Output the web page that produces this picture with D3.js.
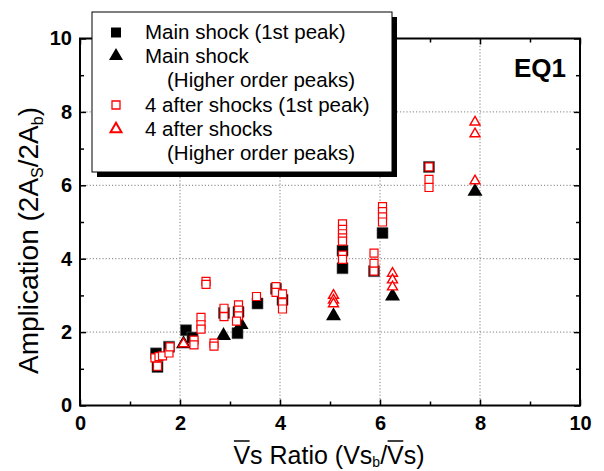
<!DOCTYPE html>
<html><head><meta charset="utf-8">
<script src="https://cdn.jsdelivr.net/npm/d3@7"></script>
<style>html,body{margin:0;padding:0;background:#fff;} svg{display:block;font-family:"Liberation Sans",Arial,sans-serif;}</style>
</head><body><svg id="c" width="604" height="471"></svg>
<script>
// ---- data ----
const main1X = [1.52, 1.55, 1.78, 2.12, 2.25, 2.88, 3.15, 3.17, 3.55, 3.92, 4.05, 5.25, 5.25, 5.88, 6.05, 6.98];
const main1Y = [1.42, 1.05, 1.60, 2.05, 1.85, 2.52, 1.97, 2.55, 2.78, 3.18, 2.88, 4.22, 3.74, 3.66, 4.70, 6.50];
const mainHX = [2.07, 2.87, 3.22, 5.07, 6.25, 7.90];
const mainHY = [1.68, 1.90, 2.20, 2.44, 2.98, 5.83];
const after1X = [1.50, 1.55, 1.58, 1.65, 1.78, 1.80, 2.28, 2.28, 2.42, 2.42, 2.42, 2.52, 2.52, 2.68, 2.68, 2.88, 2.88, 3.17, 3.17, 3.17, 3.13, 3.53, 3.92, 3.92, 4.05, 4.05, 4.05, 5.25, 5.25, 5.25, 5.25, 5.25, 5.25, 5.25, 5.88, 5.88, 5.88, 6.05, 6.05, 6.05, 6.05, 6.98, 6.98, 6.98];
const after1Y = [1.30, 1.07, 1.33, 1.35, 1.43, 1.60, 1.78, 1.65, 2.40, 2.20, 2.08, 3.38, 3.30, 1.70, 1.62, 2.65, 2.42, 2.74, 2.60, 2.44, 2.30, 2.97, 3.24, 3.08, 3.04, 2.80, 2.63, 4.95, 4.80, 4.68, 4.57, 4.48, 4.10, 3.98, 4.15, 3.87, 3.66, 5.42, 5.28, 5.14, 5.00, 6.50, 6.16, 5.94];
const afterHX = [2.07, 5.07, 5.07, 5.07, 6.25, 6.25, 6.25, 7.90, 7.90, 7.90];
const afterHY = [1.68, 3.00, 2.87, 2.77, 3.60, 3.42, 3.23, 7.72, 7.40, 6.12];
const majorTicks = [0, 2, 4, 6, 8, 10];
const minorTicks = [1, 3, 5, 7, 9];
const gridVals = [2, 4, 6, 8];
const legendLabels = ["Main shock (1st peak)", "Main shock", "(Higher order peaks)", "4 after shocks (1st peak)", "4 after shocks", "(Higher order peaks)"];

// ---- layout ----
const svg = d3.select("#c");
const x = d3.scaleLinear().domain([0, 10]).range([80, 580]);
const y = d3.scaleLinear().domain([0, 10]).range([405.5, 38.5]);

// grid
const grid = svg.append("g").attr("stroke", "#808080").attr("stroke-width", 1).attr("stroke-dasharray", "1.2,2");
grid.selectAll("line.v").data(gridVals).join("line").attr("class", "v")
  .attr("x1", d => x(d)).attr("x2", d => x(d)).attr("y1", y(0)).attr("y2", y(10));
grid.selectAll("line.h").data(gridVals).join("line").attr("class", "h")
  .attr("y1", d => y(d)).attr("y2", d => y(d)).attr("x1", x(0)).attr("x2", x(10));

// axes
function styleAxis(g) {
  g.select(".domain").remove();
  g.selectAll(".tick line").attr("stroke", "#000").attr("stroke-width", 1.5);
  g.selectAll(".tick text").attr("font-size", 20).attr("font-weight", "bold").attr("fill", "#000")
    .attr("font-family", '"Liberation Sans",Arial,sans-serif');
}
svg.append("g").attr("transform", `translate(0,${y(0)})`)
  .call(d3.axisBottom(x).tickValues(majorTicks).tickSize(-6).tickPadding(10).tickFormat(d3.format("d"))).call(styleAxis);
svg.append("g").attr("transform", `translate(0,${y(0)})`)
  .call(d3.axisBottom(x).tickValues(minorTicks).tickSize(-4).tickFormat("")).call(styleAxis);
svg.append("g").attr("transform", `translate(${x(0)},0)`)
  .call(d3.axisLeft(y).tickValues(majorTicks).tickSize(-6).tickPadding(8).tickFormat(d3.format("d"))).call(styleAxis);
svg.append("g").attr("transform", `translate(${x(0)},0)`)
  .call(d3.axisLeft(y).tickValues(minorTicks).tickSize(-4).tickFormat("")).call(styleAxis);
svg.append("g").attr("transform", `translate(0,${y(10)})`)
  .call(d3.axisTop(x).tickValues(majorTicks).tickSize(-6).tickFormat("")).call(styleAxis);
svg.append("g").attr("transform", `translate(0,${y(10)})`)
  .call(d3.axisTop(x).tickValues(minorTicks).tickSize(-4).tickFormat("")).call(styleAxis);
svg.append("g").attr("transform", `translate(${x(10)},0)`)
  .call(d3.axisRight(y).tickValues(majorTicks).tickSize(-6).tickFormat("")).call(styleAxis);
svg.append("g").attr("transform", `translate(${x(10)},0)`)
  .call(d3.axisRight(y).tickValues(minorTicks).tickSize(-4).tickFormat("")).call(styleAxis);

// frame
svg.append("rect").attr("x", x(0)).attr("y", y(10)).attr("width", x(10) - x(0)).attr("height", y(0) - y(10))
  .attr("fill", "none").attr("stroke", "#000").attr("stroke-width", 2);

// markers
const triArea = w => w * w * Math.sqrt(3) / 4;
const sqBlack = d3.symbol().type(d3.symbolSquare).size(11 * 11);
const triBlack = d3.symbol().type(d3.symbolTriangle).size(triArea(15));
const sqRed = d3.symbol().type(d3.symbolSquare).size(8 * 8);
const triRed = d3.symbol().type(d3.symbolTriangle).size(triArea(10));

svg.append("g").selectAll("path").data(d3.range(main1X.length)).join("path")
  .attr("d", sqBlack).attr("transform", i => `translate(${x(main1X[i])},${y(main1Y[i])})`)
  .attr("fill", "#000").attr("stroke", "#555").attr("stroke-width", 0.6);
svg.append("g").selectAll("path").data(d3.range(mainHX.length)).join("path")
  .attr("d", triBlack).attr("transform", i => `translate(${x(mainHX[i])},${y(mainHY[i])})`)
  .attr("fill", "#000");
svg.append("g").selectAll("path").data(d3.range(after1X.length)).join("path")
  .attr("d", sqRed).attr("transform", i => `translate(${x(after1X[i])},${y(after1Y[i])})`)
  .attr("fill", "#fff").attr("stroke", "#f00").attr("stroke-width", 1.2);
svg.append("g").selectAll("path").data(d3.range(afterHX.length)).join("path")
  .attr("d", triRed).attr("transform", i => `translate(${x(afterHX[i])},${y(afterHY[i])})`)
  .attr("fill", "#fff").attr("stroke", "#f00").attr("stroke-width", 1.4);

// EQ1 label
svg.append("text").attr("x", 566).attr("y", 77).attr("text-anchor", "end")
  .attr("font-size", 26).attr("font-weight", "bold").text("EQ1");

// legend
const lg = svg.append("g");
lg.append("rect").attr("x", 97).attr("y", 17).attr("width", 300).attr("height", 160).attr("fill", "#000");
lg.append("rect").attr("x", 92).attr("y", 12).attr("width", 300).attr("height", 160)
  .attr("fill", "#fff").attr("stroke", "#000").attr("stroke-width", 1);
const lgBase = [39, 63, 87, 111.5, 136, 160];
const lgX = [145, 145, 167, 145, 145, 167];
lg.selectAll("text").data(legendLabels).join("text")
  .attr("x", (d, i) => lgX[i]).attr("y", (d, i) => lgBase[i]).attr("font-size", 20.5).text(d => d);
lg.append("path").attr("d", d3.symbol().type(d3.symbolSquare).size(100)).attr("transform", "translate(116,32.5)").attr("fill", "#000");
lg.append("path").attr("d", d3.symbol().type(d3.symbolTriangle).size(triArea(14))).attr("transform", "translate(116,56)").attr("fill", "#000");
lg.append("path").attr("d", d3.symbol().type(d3.symbolSquare).size(64)).attr("transform", "translate(116,105)")
  .attr("fill", "#fff").attr("stroke", "#f00").attr("stroke-width", 1.3);
lg.append("path").attr("d", d3.symbol().type(d3.symbolTriangle).size(triArea(11))).attr("transform", "translate(116,129)")
  .attr("fill", "#fff").attr("stroke", "#f00").attr("stroke-width", 2);

// x axis label
const xl = svg.append("text").attr("x", 329).attr("y", 464).attr("text-anchor", "middle").attr("font-size", 25);
xl.append("tspan").text("Vs Ratio (Vs");
xl.append("tspan").attr("font-size", 14).attr("dy", 3).text("b");
xl.append("tspan").attr("dy", -3).text("/Vs)");
[0, 14].forEach(ci => {
  const e = xl.node().getExtentOfChar(ci);
  svg.append("line").attr("x1", e.x + 0.5).attr("x2", e.x + e.width - 0.5).attr("y1", 441).attr("y2", 441)
    .attr("stroke", "#000").attr("stroke-width", 1.5);
});

// y axis label
const yl = svg.append("text").attr("transform", "translate(38,240.5) rotate(-90)").attr("text-anchor", "middle").attr("font-size", 28);
yl.append("tspan").text("Amplication (2A");
yl.append("tspan").attr("font-size", 16).attr("dy", 5).text("S");
yl.append("tspan").attr("dy", -5).text("/2A");
yl.append("tspan").attr("font-size", 16).attr("dy", 5).text("b");
yl.append("tspan").attr("dy", -5).text(")");
</script></body></html>
